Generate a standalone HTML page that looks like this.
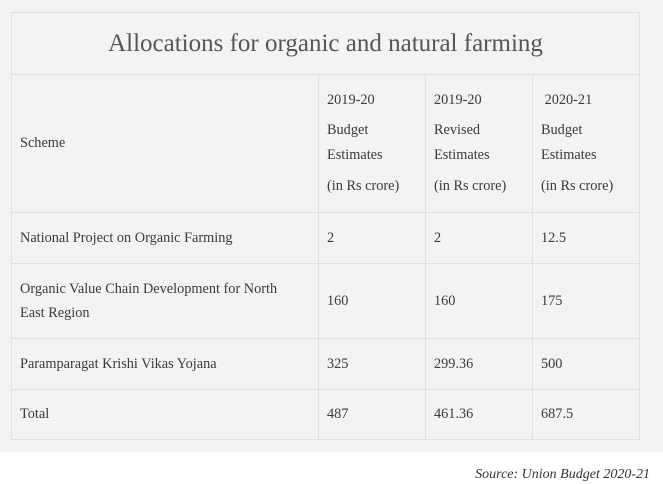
<!DOCTYPE html>
<html><head><style>
body{margin:0;width:663px;height:484px;background:#fff;font-family:"Liberation Serif",serif;color:#3a3a3a;position:relative;overflow:hidden}
.panel{position:absolute;left:0;top:0;width:663px;height:452px;background:#f3f3f3}
table{position:absolute;left:11px;top:12px;width:629px;border-collapse:collapse;font-size:14.3px}
td{border:1px solid #e0e0e0;padding:0 0 0 8px;vertical-align:middle}
.t{height:61px;text-align:center;font-size:25px;color:#555;padding:0}
.h td{height:137px}
.h p{margin:0;line-height:25px}
.h p.g{margin-top:5px}
.h p.g2{margin-top:6px}
.src{position:absolute;right:13px;top:467px;font-style:italic;font-size:14px;color:#333}
</style></head><body>
<div class="panel"></div>
<table>
<tr><td colspan="4" class="t">Allocations for organic and natural farming</td></tr>
<tr class="h"><td style="width:298px">Scheme</td>
<td style="width:98px"><p>2019-20</p><p class="g">Budget</p><p>Estimates</p><p class="g2">(in Rs crore)</p></td>
<td style="width:98px"><p>2019-20</p><p class="g">Revised</p><p>Estimates</p><p class="g2">(in Rs crore)</p></td>
<td><p>&nbsp;2020-21</p><p class="g">Budget</p><p>Estimates</p><p class="g2">(in Rs crore)</p></td></tr>
<tr style="height:51px"><td>National Project on Organic Farming</td><td>2</td><td>2</td><td>12.5</td></tr>
<tr style="height:75px"><td style="line-height:24px;padding-right:20px">Organic Value Chain Development for North East Region</td><td>160</td><td>160</td><td>175</td></tr>
<tr style="height:51px"><td>Paramparagat Krishi Vikas Yojana</td><td>325</td><td>299.36</td><td>500</td></tr>
<tr style="height:50px"><td>Total</td><td>487</td><td>461.36</td><td>687.5</td></tr>
</table>
<div class="src">Source: Union Budget 2020-21</div>
</body></html>
